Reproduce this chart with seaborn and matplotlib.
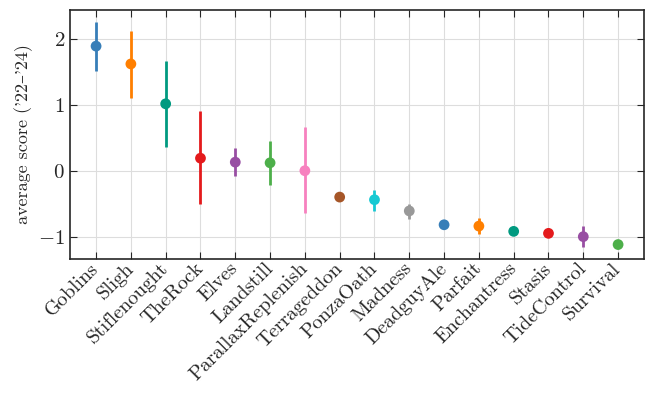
import pandas as pd
import seaborn as sns
import matplotlib.pyplot as plt

# values
decks = ["Goblins", "Sligh", "Stiflenought", "TheRock", "Elves", "Landstill",
         "ParallaxReplenish", "Terrageddon", "PonzaOath", "Madness", "DeadguyAle",
         "Parfait", "Enchantress", "Stasis", "TideControl", "Survival"]
score = [1.89, 1.62, 1.015, 0.19, 0.13, 0.12, 0.0, -0.40, -0.44, -0.61, -0.82,
         -0.84, -0.92, -0.95, -1.00, -1.12]
err_lo = [1.51, 1.11, 0.355, -0.50, -0.08, -0.21, -0.64, -0.40, -0.61, -0.73, -0.87,
          -0.96, -0.92, -0.95, -1.16, -1.12]
err_hi = [2.26, 2.12, 1.67, 0.90, 0.34, 0.45, 0.66, -0.40, -0.29, -0.50, -0.77,
          -0.71, -0.92, -0.95, -0.84, -1.12]
yticks = [-1, 0, 1, 2]
ytick_labels = [r"$\mathbf{-1}$", r"$\mathbf{0}$", r"$\mathbf{1}$", r"$\mathbf{2}$"]

colors = ["#377eb8", "#ff7f00", "#009a80", "#e41a1c", "#984ea3", "#4daf4a",
          "#f781bf", "#a65628", "#17c9d3", "#999999"]

df = pd.DataFrame({"deck": decks, "score": score, "lo": err_lo, "hi": err_hi})
df["color"] = [colors[i % len(colors)] for i in range(len(df))]

sns.set_style("ticks")
plt.rcParams["font.family"] = "serif"
plt.rcParams["font.serif"] = ["cmr10"]
plt.rcParams["mathtext.fontset"] = "cm"
plt.rcParams["axes.formatter.use_mathtext"] = True

fig, ax = plt.subplots(figsize=(6.54, 3.95), dpi=100)
ax.grid(True, color="#dddddd", linewidth=0.8)
ax.set_axisbelow(True)

for _, r in df.iterrows():
    ax.errorbar([r["deck"]], [r["score"]],
                yerr=[[r["score"] - r["lo"]], [r["hi"] - r["score"]]],
                fmt="none", ecolor=r["color"], elinewidth=2, zorder=2)

sns.scatterplot(data=df, x="deck", y="score", hue="deck",
                palette=list(df["color"]), s=60, linewidth=0, legend=False,
                zorder=3, ax=ax)

ax.set_xlim(-0.75, 15.75)
ax.set_ylim(-1.335, 2.44)
ax.set_yticks(yticks)
ax.set_yticklabels(ytick_labels, fontsize=15)
ax.set_xlabel("")
ax.set_ylabel("average score ('22–'24)", fontsize=13,
              family=["cmr10", "DejaVu Serif"])
ax.tick_params(direction="in", top=True, right=True, length=5)
ax.tick_params(axis="x", labelsize=14.5, pad=5)
plt.setp(ax.get_xticklabels(), rotation=45, ha="right", va="center",
         rotation_mode="anchor")
for s in ax.spines.values():
    s.set_linewidth(1.2)

fig.subplots_adjust(left=0.107, right=0.985, top=0.975, bottom=0.345)
fig.savefig("out.png", dpi=100)
